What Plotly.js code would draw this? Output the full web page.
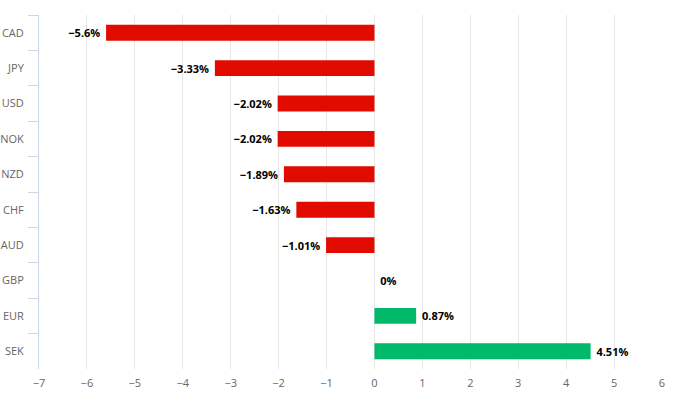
<!DOCTYPE html>
<html>
<head>
<meta charset="utf-8">
<script src="https://cdn.plot.ly/plotly-3.0.1.min.js"></script>
<style>html,body{margin:0;padding:0;background:#fff;}#chart{width:693px;height:396px;}</style>
</head>
<body>
<div id="chart"></div>
<script>
const currencies = ["CAD", "JPY", "USD", "NOK", "NZD", "CHF", "AUD", "GBP", "EUR", "SEK"];
const changes = [-5.6, -3.33, -2.02, -2.02, -1.89, -1.63, -1.01, 0, 0.87, 4.51];
const xTicks = [-7, -6, -5, -4, -3, -2, -1, 0, 1, 2, 3, 4, 5, 6];

const labels = changes.map(v => {
  const s = String(v).replace('-', '\u2212') + '%';
  return v < 0 ? s + '\u00a0' : '\u00a0' + s;
});
const colors = changes.map(v => v < 0 ? '#e20b00' : '#00b96b');

const trace = {
  type: 'bar',
  orientation: 'h',
  x: changes,
  y: currencies,
  marker: {color: colors, line: {width: 0}},
  text: labels,
  textposition: 'outside',
  cliponaxis: false,
  textfont: {family: 'Open Sans, sans-serif', size: 11, color: '#000000', weight: 'bold'},
  hoverinfo: 'none'
};

const layout = {
  width: 693, height: 396,
  margin: {l: 39, r: 31, t: 15, b: 27},
  paper_bgcolor: '#ffffff', plot_bgcolor: '#ffffff',
  showlegend: false,
  bargap: 0.55,
  font: {family: 'Open Sans, sans-serif', size: 11, color: '#666666'},
  xaxis: {
    range: [-7, 6],
    tickvals: xTicks,
    showgrid: true, gridcolor: '#e6e6e6', gridwidth: 1,
    zeroline: false, showline: false, ticks: '',
    tickfont: {size: 11, color: '#666666'},
    ticklabelstandoff: 6,
    fixedrange: true
  },
  yaxis: {
    type: 'category',
    categoryorder: 'array', categoryarray: currencies,
    autorange: 'reversed',
    showgrid: false, zeroline: false,
    showline: true, linecolor: '#ccd6eb', linewidth: 1,
    ticks: 'outside', ticklen: 10, tickcolor: '#ccd6eb', tickson: 'boundaries',
    tickfont: {size: 11, color: '#666666'},
    ticklabelstandoff: 12,
    fixedrange: true
  }
};

Plotly.newPlot('chart', [trace], layout, {displayModeBar: false, staticPlot: true});
</script>
</body>
</html>
